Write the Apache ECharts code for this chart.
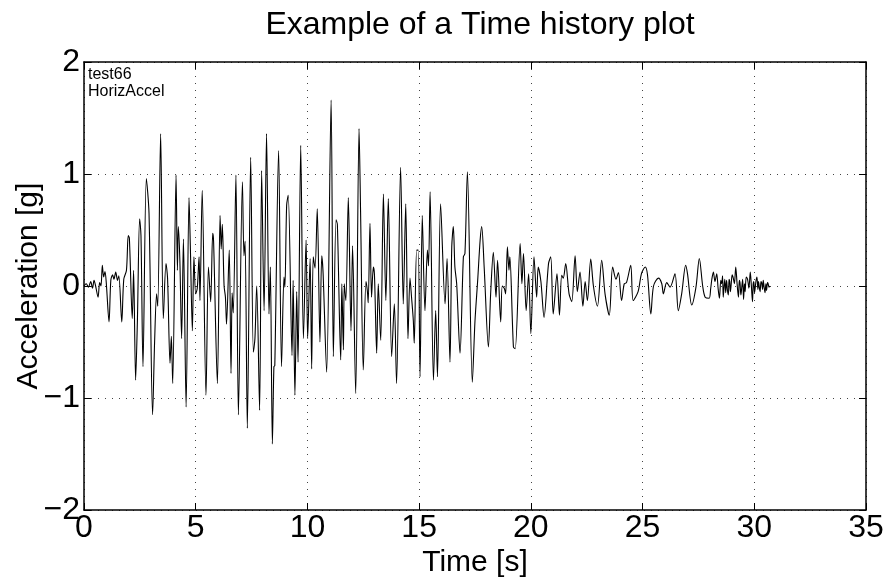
<!DOCTYPE html>
<html>
<head>
<meta charset="utf-8">
<script src="https://cdn.jsdelivr.net/npm/echarts@6/dist/echarts.min.js"></script>
<style>html,body{margin:0;padding:0;background:#fff;}#c{width:887px;height:582px;}</style>
</head>
<body>
<div id="c"></div>
<script>
// Time [s]
const times = [
0.00,0.10,0.20,0.30,0.38,0.45,0.52,0.63,0.70,0.76,0.82,0.88,0.94,1.00,1.12,1.20,1.28,1.34,1.42,1.50,1.56,1.69,1.78,1.90,1.98,2.03,2.16,2.22,2.31,2.39,2.49,2.55,2.64,2.79,2.91,3.07,3.16,3.25,3.30,3.43,3.55,3.67,3.74,3.85,3.91,3.97,4.12,4.18,4.22,4.29,4.37,4.45,4.57,4.70,4.76,4.85,4.92,5.00,5.07,5.15,5.19,5.29,5.46,
5.57,5.67,5.76,5.80,5.97,6.09,6.14,6.19,6.27,6.33,6.38,6.50,6.58,6.63,6.68,6.80,6.91,7.09,7.16,7.21,7.31,7.46,7.58,7.65,7.73,7.86,7.95,8.06,8.17,8.28,8.34,8.43,8.50,8.54,8.71,8.84,8.95,8.99,9.07,9.14,9.31,9.36,9.44,9.52,9.58,9.70,9.82,9.94,10.01,10.12,10.19,10.26,10.34,10.44,10.56,10.64,10.70,10.86,11.06,11.16,11.28,11.34,11.49,11.54,11.61,11.65,11.72,11.83,11.95,12.02,12.16,12.31,12.38,12.50,12.62,12.68,12.72,12.80,12.87,12.95,13.00,13.10,13.17,13.28,13.40,13.51,13.62,
13.77,13.89,13.99,14.17,14.29,14.40,14.50,14.59,14.66,14.74,14.78,14.89,14.96,15.04,15.14,15.26,15.37,15.42,15.49,15.64,15.74,15.82,15.96,16.16,16.25,16.38,16.46,16.53,16.60,16.68,16.83,16.98,17.05,17.16,17.38,17.50,17.62,17.73,17.80,17.91,18.10,18.20,18.32,18.44,18.51,18.65,18.72,18.81,18.87,18.95,19.02,19.06,19.22,19.30,19.52,19.60,19.67,19.79,19.90,20.00,20.14,20.26,20.33,20.45,20.59,20.79,20.89,21.00,21.17,21.28,
21.38,21.45,21.56,21.71,21.83,21.98,22.08,22.20,22.33,22.43,22.53,22.68,22.80,22.98,23.17,23.32,23.51,23.66,23.81,23.92,24.06,24.18,24.28,24.47,24.58,24.80,24.95,25.12,25.22,25.37,25.49,25.71,25.86,25.93,26.08,26.23,26.45,26.60,26.75,26.93,27.01,27.20,27.39,27.54,27.69,27.80,
27.98,28.05,28.10,28.17,28.24,28.32,28.38,28.44,28.50,28.54,28.58,28.61,28.65,28.68,28.72,28.76,28.80,28.84,28.87,28.90,28.93,28.96,29.01,29.06,29.11,29.17,29.23,29.29,29.33,29.36,29.40,29.44,29.48,29.52,29.56,29.59,29.64,29.70,29.76,29.82,29.87,29.92,29.95,29.98,30.01,30.04,30.08,30.12,30.16,30.19,30.23,30.26,30.30,30.33,30.37,30.40,30.44,30.48,30.52,30.55,30.59,30.62,30.66,30.70
];
// Acceleration [g]
const accel = [
0.00,0.02,-0.01,0.04,-0.02,0.05,0.00,-0.10,0.03,0.00,0.185,0.08,0.13,0.02,-0.32,0.05,0.10,0.06,0.125,0.05,0.09,-0.32,0.06,0.14,0.45,0.43,-0.29,0.14,-0.84,-0.31,0.60,0.45,-0.72,0.96,0.65,-1.15,-0.50,-0.07,-0.18,1.36,-0.29,0.20,0.07,-0.69,-0.45,-0.87,0.99,0.14,0.53,0.23,-0.47,0.42,-1.08,0.79,0.35,-0.40,0.26,-0.07,-0.02,0.26,-0.13,0.855,-0.975,
0.17,-0.14,0.47,0.40,-0.87,0.63,0.33,0.55,0.00,-0.10,-0.34,0.32,-0.78,-0.06,-0.24,0.99,-1.15,0.93,0.27,0.40,-1.27,1.15,-0.59,-0.47,0.00,-1.11,1.03,-0.22,1.36,-0.25,0.17,-1.41,-0.72,-0.71,1.21,-0.72,0.08,-0.01,0.72,0.81,-0.62,0.05,-0.975,-0.05,-0.68,1.255,-0.47,0.41,-0.47,0.245,-0.74,0.26,0.16,0.69,-0.50,0.27,0.12,-0.77,1.66,-0.63,0.59,0.55,-0.66,0.02,-0.57,0.02,-0.13,0.79,-0.40,0.36,-0.96,1.405,0.65,-0.75,0.04,-0.04,-0.15,0.56,-0.10,0.17,0.10,-0.60,0.02,-0.485,0.82,-0.13,0.78,
-0.63,-0.16,-0.87,1.06,-0.16,0.735,-0.47,0.07,-0.10,-0.31,-0.51,0.32,0.32,-0.81,0.63,-0.22,0.32,0.18,0.84,-0.84,-0.22,-0.81,0.735,-0.16,0.245,-0.68,0.35,0.53,0.17,0.02,-0.60,0.26,0.29,1.02,-0.86,-0.31,0.05,0.41,0.53,0.17,-0.545,-0.07,0.30,-0.10,0.23,-0.32,0.00,-0.02,-0.07,0.35,0.14,0.26,-0.545,-0.56,0.38,0.02,0.29,-0.22,0.11,-0.425,0.26,-0.10,0.17,0.04,-0.28,0.20,0.26,-0.25,0.11,-0.26,
0.095,0.07,0.20,-0.07,-0.14,0.27,-0.05,0.125,-0.18,0.04,-0.13,0.24,0.00,-0.18,0.23,-0.07,-0.26,0.17,0.06,0.12,-0.13,0.02,0.03,0.185,-0.13,-0.05,0.11,0.17,0.10,-0.25,0.00,0.07,0.02,-0.07,0.03,-0.01,0.11,-0.22,-0.07,0.185,0.11,-0.17,-0.01,0.245,0.00,-0.10,
-0.11,-0.02,0.06,0.125,0.04,0.11,-0.02,-0.11,0.05,0.02,0.09,-0.10,0.00,0.06,-0.06,0.05,-0.04,-0.08,0.06,0.04,-0.05,0.00,0.10,0.07,0.02,0.17,0.02,-0.10,0.05,0.03,-0.08,-0.01,0.06,-0.12,0.02,-0.05,0.08,0.06,-0.02,0.125,0.00,-0.14,0.02,0.04,-0.06,-0.02,0.05,0.08,-0.03,0.04,-0.02,-0.05,0.04,0.03,-0.03,0.05,-0.01,-0.06,0.02,-0.04,0.03,0.02,-0.01,0.00
];
const xTicks = [0,5,10,15,20,25,30,35];
const yTicks = [-2,-1,0,1,2];

const FONT = "'Liberation Sans', Arial, Helvetica, sans-serif";
const minus = v => String(v).replace('-', '\u2212');
const chart = echarts.init(document.getElementById('c'), null, {renderer:'canvas'});
const data = times.map((t,i)=>[t, accel[i]]);
const grid = {left:84, right:21, top:62, bottom:72, containLabel:false, outerBoundsMode:'none'};
const split = {show:true, lineStyle:{color:'#444', width:1, type:[1,6]}};
const frameTick = {show:true, inside:true, length:7, lineStyle:{color:'#000'}};
chart.setOption({
  animation:false,
  backgroundColor:'#fff',
  title:{text:'Example of a Time history plot', left:475, top:4, textAlign:'center',
    textStyle:{fontFamily:FONT, fontSize:32, fontWeight:'normal', color:'#000'}},
  grid:grid,
  xAxis:[{type:'value', min:xTicks[0], max:xTicks[xTicks.length-1], interval:5,
    name:'Time [s]', nameLocation:'middle', nameGap:38, nameMoveOverlap:false,
    nameTextStyle:{fontFamily:FONT, fontSize:30, color:'#000'},
    axisLine:{show:true, onZero:false, lineStyle:{color:'#000', width:1.5}},
    axisTick:frameTick,
    axisLabel:{fontFamily:FONT, fontSize:32, color:'#000', margin:2, formatter:minus},
    splitLine:split},
   {type:'value', position:'top', min:xTicks[0], max:xTicks[xTicks.length-1], interval:5,
    axisLine:{show:true, onZero:false, lineStyle:{color:'#000', width:1.5}},
    axisTick:frameTick,
    axisLabel:{show:false}, splitLine:{show:false}}],
  yAxis:[{type:'value', min:yTicks[0], max:yTicks[yTicks.length-1], interval:1,
    name:'Acceleration [g]', nameLocation:'middle', nameGap:40, nameRotate:90, nameMoveOverlap:false,
    nameTextStyle:{fontFamily:FONT, fontSize:30, color:'#000'},
    axisLine:{show:true, onZero:false, lineStyle:{color:'#000', width:1.5}},
    axisTick:frameTick,
    axisLabel:{fontFamily:FONT, fontSize:32, color:'#000', margin:4, formatter:minus},
    splitLine:split},
   {type:'value', position:'right', min:yTicks[0], max:yTicks[yTicks.length-1], interval:1,
    axisLine:{show:true, onZero:false, lineStyle:{color:'#000', width:1.5}},
    axisTick:frameTick,
    axisLabel:{show:false}, splitLine:{show:false}}],
  graphic:[
    {type:'text', left:88, top:66, style:{text:'test66\nHorizAccel', font:"16px 'Liberation Sans', Arial, sans-serif", fill:'#000', lineHeight:17}}
  ],
  series:[{type:'line', data:data, showSymbol:false, symbol:'none', smooth:0.3,
    lineStyle:{color:'#000', width:1.1}, xAxisIndex:0, yAxisIndex:0}]
});
</script>
</body>
</html>
